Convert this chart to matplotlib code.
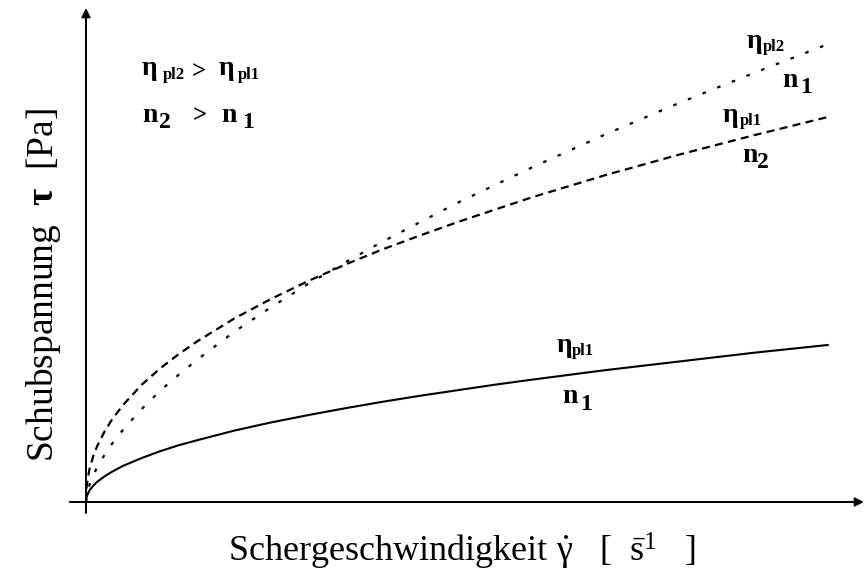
import matplotlib.pyplot as plt

plt.rcParams['font.family'] = 'Liberation Serif'
plt.rcParams['mathtext.fontset'] = 'custom'
plt.rcParams['mathtext.rm'] = 'Liberation Serif'
plt.rcParams['mathtext.it'] = 'Liberation Serif'
plt.rcParams['mathtext.bf'] = 'Liberation Serif:bold'

W, H = 864, 576

# shear rate (arbitrary units) and shear stress of the three flow curves
rate_lo = [0, 0.05, 0.1, 0.25, 0.5, 1, 1.5, 2.5, 3.5, 5, 7.5, 10, 12.5, 15, 20,
           25, 30, 35, 40, 45, 50, 55, 60, 70, 80, 90, 100]
tau_lo = [0, 0.8, 1.2, 1.8, 2.6, 3.6, 4.4, 5.6, 6.6, 7.9, 9.6, 11.1, 12.4, 13.5, 15.6,
          17.4, 19.0, 20.5, 21.9, 23.2, 24.4, 25.6, 26.7, 28.8, 30.7, 32.6, 34.3]

rate_mid = [0, 0.05, 0.1, 0.25, 0.5, 1, 1.5, 2.5, 3.5, 5, 7.5, 10, 12.5, 15, 20,
            25, 30, 35, 40, 45, 50, 60, 70, 80, 90, 100]
tau_mid = [0, 2.5, 3.5, 5.3, 7.4, 10.1, 12.2, 15.4, 18.0, 21.2, 25.6, 29.2, 32.3, 35.1, 40.1,
           44.4, 48.3, 51.9, 55.2, 58.2, 61.1, 66.5, 71.4, 75.9, 80.1, 84.1]

rate_hi = [0, 0.1, 0.25, 0.5, 1, 1.5, 2.5, 3.5, 5, 7.5, 10, 12.5, 15, 20,
           25, 30, 35, 40, 50, 60, 70, 80, 90, 100]
tau_hi = [0, 1.4, 2.5, 3.9, 5.9, 7.6, 10.3, 12.7, 15.8, 20.3, 24.3, 27.8, 31.1, 37.2,
          42.6, 47.7, 52.4, 56.9, 65.3, 73.0, 80.3, 87.2, 93.7, 100]


def pix(x, y):
    return x / W, 1 - y / H


fig = plt.figure(figsize=(W / 100, H / 100), dpi=100)
ax = fig.add_axes([86 / W, 74 / H, (W - 86) / W, 494 / H])
ax.set_xlim(0, 104.85)
ax.set_ylim(0, 107.9)
ax.axis('off')

ax.plot(rate_lo, tau_lo, color='black', lw=1.5, solid_capstyle='round')
ax.plot(rate_mid, tau_mid, color='black', lw=1.6, linestyle=(0, (3.6, 2.4)))
ax.plot(rate_hi, tau_hi, color='black', lw=1.6, linestyle=(0, (1.6, 5.5)))

arrow = dict(arrowstyle='-|>', lw=1.4, color='black', mutation_scale=13,
             shrinkA=0, shrinkB=0)
ax.annotate('', xy=(104.85, 0), xytext=(-2.2, 0), arrowprops=arrow,
            annotation_clip=False)
ax.annotate('', xy=(0, 107.9), xytext=(0, -2.4), arrowprops=arrow,
            annotation_clip=False)

# axis titles
fig.text(*pix(228, 562), r'Schergeschwindigkeit $\dot{\gamma}$   [  $\bar{\mathrm{s}}^{1}$   ]',
         fontsize=26, ha='left', va='baseline')
fig.text(*pix(53, 462), r'Schubspannung  $\mathbf{\tau}$  [Pa]', fontsize=27,
         rotation=90, rotation_mode='anchor', ha='left', va='baseline')


def sym(x, y, s, size=20):
    fig.text(*pix(x, y), s, fontsize=size, fontweight='bold',
             ha='left', va='baseline')


eta = '\u03b7'

# legend block
sym(142, 75, eta)
sym(163, 79, 'pl2', 12)
sym(192, 78, '>', 18)
sym(219, 75, eta)
sym(238, 79, 'pl1', 12)
sym(142, 122, 'n')
sym(159, 128, '2', 17)
sym(193, 122, '>', 18)
sym(221, 122, 'n')
sym(242, 128, '1', 17)

# curve labels
sym(747, 48, eta)
sym(763, 51, 'pl2', 12)
sym(782, 87, 'n')
sym(800, 93, '1', 17)
sym(723, 122, eta)
sym(740, 125, 'pl1', 12)
sym(742, 162, 'n')
sym(757, 168, '2', 17)
sym(557, 352, eta)
sym(572, 355, 'pl1', 12)
sym(562, 403, 'n')
sym(580, 410, '1', 17)

fig.savefig('out.png', dpi=100)
